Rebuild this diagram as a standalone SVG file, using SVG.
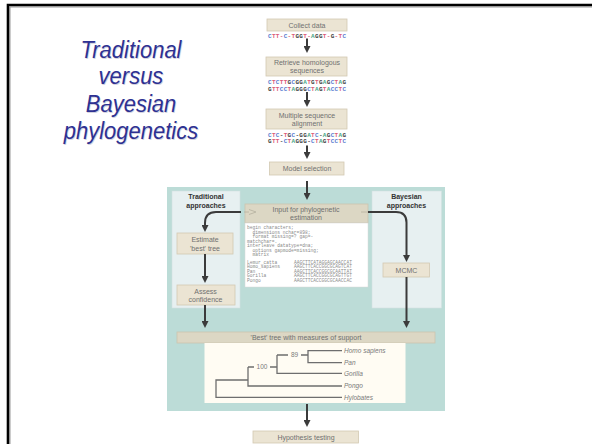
<svg xmlns="http://www.w3.org/2000/svg" width="592" height="444" viewBox="0 0 592 444">
  <style>
    .title { font-family: "Liberation Sans", Arial, sans-serif; font-style: italic; font-size: 22px; fill: #2e3192; text-anchor: middle; }
    .shadow { fill: #d2d2de; }
    .box { fill: #ebe4d3; stroke: #d3c9b2; stroke-width: 0.8; }
    .bar { fill: #dcd7c4; stroke: #cbc4ae; stroke-width: 0.8; }
    .lbl { font-family: "Liberation Sans", Arial, sans-serif; font-size: 7px; fill: #707070; text-anchor: middle; }
    .hd { font-family: "Liberation Sans", Arial, sans-serif; font-size: 7px; font-weight: bold; fill: #333; text-anchor: middle; }
    .arr { stroke: #3b3b3b; stroke-width: 2; fill: none; marker-end: url(#ah); }
    .sq { font-family: "Liberation Mono", "Courier New", monospace; font-size: 6px; font-weight: bold; }
    .a { fill: #4aa88a; } .c { fill: #5a7bd0; } .g { fill: #444; } .t { fill: #dc5c78; }
    .code { font-family: "Liberation Mono", "Courier New", monospace; font-size: 4.6px; fill: #8a8a8a; white-space: pre; }
    .tree { stroke: #6e6e6e; stroke-width: 1.3; fill: none; }
    .leaf { font-family: "Liberation Sans", Arial, sans-serif; font-style: italic; font-size: 6.5px; fill: #7a7a7a; }
    .num { font-family: "Liberation Sans", Arial, sans-serif; font-size: 6.5px; fill: #7a7a7a; text-anchor: middle; }
  </style>
  <defs>
    <marker id="ah" viewBox="0 0 10 10" refX="5.7" refY="5" markerWidth="7" markerHeight="7" markerUnits="userSpaceOnUse" orient="auto">
      <path d="M0,0 L10,5 L0,10 z" fill="#3b3b3b"/>
    </marker>
  </defs>

  <rect width="592" height="444" fill="#ffffff"/>

  <!-- slide frame -->
  <path d="M10,444 V7 H592" fill="none" stroke="#9a9a9a" stroke-width="1"/>
  <path d="M8,444 V5 H592" fill="none" stroke="#000" stroke-width="2.6"/>

  <!-- title -->
  <g id="title" transform="scale(1,1.12)">
    <g transform="translate(0.7,0.7)">
      <text x="131" y="51.8" class="title shadow">Traditional</text>
      <text x="131" y="75" class="title shadow">versus</text>
      <text x="131" y="100" class="title shadow">Bayesian</text>
      <text x="131" y="124.1" class="title shadow">phylogenetics</text>
    </g>
    <text x="131" y="51.8" class="title">Traditional</text>
    <text x="131" y="75" class="title">versus</text>
    <text x="131" y="100" class="title">Bayesian</text>
    <text x="131" y="124.1" class="title">phylogenetics</text>
  </g>

  <!-- lower panel backgrounds -->
  <rect x="167" y="187" width="278" height="224" fill="#bcdcd7"/>
  <rect id="traditional-panel" x="172" y="191" width="68" height="117" fill="#e7f0f1" stroke="#d2e2e2" stroke-width="0.6"/>
  <rect id="bayesian-panel" x="372" y="191" width="69.5" height="117" fill="#e7f0f1" stroke="#d2e2e2" stroke-width="0.6"/>
  <text x="206" y="199" class="hd">Traditional</text>
  <text x="206" y="207.5" class="hd">approaches</text>
  <text x="406.5" y="199" class="hd">Bayesian</text>
  <text x="406.5" y="207.5" class="hd">approaches</text>

  <!-- nodes -->
  <g id="collect">
    <rect x="267" y="19" width="80" height="12" class="box"/>
    <text x="307" y="27.5" class="lbl">Collect data</text>
    <text x="268" y="37.5" class="sq" textLength="78" lengthAdjust="spacing"><tspan class="c">C</tspan><tspan class="t">TT-</tspan><tspan class="c">C</tspan><tspan class="t">-T</tspan><tspan class="g">GG</tspan><tspan class="t">T-</tspan><tspan class="a">A</tspan><tspan class="g">GG</tspan><tspan class="t">T-</tspan><tspan class="g">G</tspan><tspan class="t">-T</tspan><tspan class="c">C</tspan></text>
  </g>

  <g id="retrieve">
    <rect x="266" y="57" width="81" height="19" class="box"/>
    <text x="307" y="65" class="lbl">Retrieve homologous</text>
    <text x="307" y="73" class="lbl">sequences</text>
    <text x="268" y="84" class="sq" textLength="78" lengthAdjust="spacing"><tspan class="c">C</tspan><tspan class="t">T</tspan><tspan class="c">C</tspan><tspan class="t">TT</tspan><tspan class="g">G</tspan><tspan class="c">C</tspan><tspan class="g">GG</tspan><tspan class="a">A</tspan><tspan class="t">T</tspan><tspan class="g">G</tspan><tspan class="t">T</tspan><tspan class="g">G</tspan><tspan class="a">A</tspan><tspan class="g">G</tspan><tspan class="c">C</tspan><tspan class="t">T</tspan><tspan class="a">A</tspan><tspan class="g">G</tspan></text>
    <text x="268" y="90.5" class="sq" textLength="78" lengthAdjust="spacing"><tspan class="g">G</tspan><tspan class="t">TT</tspan><tspan class="c">CC</tspan><tspan class="t">T</tspan><tspan class="a">A</tspan><tspan class="g">GGG</tspan><tspan class="c">C</tspan><tspan class="t">T</tspan><tspan class="a">A</tspan><tspan class="g">G</tspan><tspan class="t">T</tspan><tspan class="a">A</tspan><tspan class="c">CC</tspan><tspan class="t">T</tspan><tspan class="c">C</tspan></text>
  </g>

  <g id="alignment">
    <rect x="266" y="109" width="81" height="20" class="box"/>
    <text x="307" y="117.5" class="lbl">Multiple sequence</text>
    <text x="307" y="125.5" class="lbl">alignment</text>
    <text x="268" y="136.5" class="sq" textLength="78" lengthAdjust="spacing"><tspan class="c">C</tspan><tspan class="t">T</tspan><tspan class="c">C</tspan><tspan class="g">-</tspan><tspan class="t">T</tspan><tspan class="g">G</tspan><tspan class="c">C</tspan><tspan class="g">-GG</tspan><tspan class="a">A</tspan><tspan class="t">T</tspan><tspan class="c">C</tspan><tspan class="g">-</tspan><tspan class="a">A</tspan><tspan class="g">G</tspan><tspan class="c">C</tspan><tspan class="t">T</tspan><tspan class="a">A</tspan><tspan class="g">G</tspan></text>
    <text x="268" y="143" class="sq" textLength="78" lengthAdjust="spacing"><tspan class="g">G</tspan><tspan class="t">TT</tspan><tspan class="g">-</tspan><tspan class="c">C</tspan><tspan class="t">T</tspan><tspan class="a">A</tspan><tspan class="g">GGG-</tspan><tspan class="c">C</tspan><tspan class="t">T</tspan><tspan class="a">A</tspan><tspan class="g">G</tspan><tspan class="t">T</tspan><tspan class="c">CC</tspan><tspan class="t">T</tspan><tspan class="c">C</tspan></text>
  </g>

  <g id="model">
    <rect x="269.5" y="162" width="74.5" height="13" class="box"/>
    <text x="307" y="171" class="lbl">Model selection</text>
  </g>

  <g id="input">
    <rect x="245" y="204" width="123" height="19" class="bar"/>
    <path d="M249,209.5 L256,212 L249,214.5 M249,212 H244" fill="none" stroke="#b5b0a0" stroke-width="0.8"/>
    <path d="M361,212 H368" stroke="#b5b0a0" stroke-width="0.8"/>
    <text x="306" y="212" class="lbl">Input for phylogenetic</text>
    <text x="306" y="220" class="lbl">estimation</text>
    <rect x="245" y="223" width="123" height="64" fill="#ffffff" stroke="#d8d8d8" stroke-width="0.5"/>
    <text class="code" x="247" y="229" xml:space="preserve">begin characters;</text>
    <text class="code" x="247" y="233.5" xml:space="preserve">  dimensions nchar=898;</text>
    <text class="code" x="247" y="238" xml:space="preserve">  format missing=? gap=-</text>
    <text class="code" x="247" y="242.5" xml:space="preserve">matchchar=.</text>
    <text class="code" x="247" y="247" xml:space="preserve">interleave datatype=dna;</text>
    <text class="code" x="247" y="251.5" xml:space="preserve">  options gapmode=missing;</text>
    <text class="code" x="247" y="256" xml:space="preserve">  matrix</text>
    <text class="code" x="247" y="263.5">Lemur_catta</text>
    <text class="code" x="247" y="268">Homo_sapiens</text>
    <text class="code" x="247" y="272.5">Pan</text>
    <text class="code" x="247" y="277">Gorilla</text>
    <text class="code" x="247" y="281.5">Pongo</text>
    <text class="code" x="294" y="263.5">AAGCTTCATAGGAGCAACCAT</text>
    <text class="code" x="294" y="268">AAGCTTCACCGGCGCAGTCAT</text>
    <text class="code" x="294" y="272.5">AAGCTTCACCGGCGCAATTAT</text>
    <text class="code" x="294" y="277">AAGCTTCACCGGCGCAGTTGT</text>
    <text class="code" x="294" y="281.5">AAGCTTCACCGGCGCAACCAC</text>
  </g>

  <g id="estimate">
    <rect x="177" y="233" width="56" height="21" class="box"/>
    <text x="205" y="242" class="lbl">Estimate</text>
    <text x="205" y="250.5" class="lbl">'best' tree</text>
  </g>

  <g id="assess">
    <rect x="177" y="285" width="58" height="20" class="box"/>
    <text x="205.5" y="293.5" class="lbl">Assess</text>
    <text x="205.5" y="302" class="lbl">confidence</text>
  </g>

  <g id="mcmc">
    <rect x="383" y="263" width="46.5" height="14" class="box"/>
    <text x="406.5" y="272.5" class="lbl">MCMC</text>
  </g>

  <g id="best-tree">
    <rect x="177" y="332" width="258" height="11" class="bar"/>
    <text x="306" y="340.3" class="lbl">'Best' tree with measures of support</text>
    <rect x="204.5" y="343" width="201" height="60" fill="#fffcf3"/>
    <path class="tree" d="M342,397.3 H216 V380 H248"/>
    <path class="tree" d="M248,367 V386 H342"/>
    <path class="tree" d="M248,367 H254 M270,367 H277"/>
    <text x="262" y="369.3" class="num">100</text>
    <path class="tree" d="M277,355 V373.3 H342"/>
    <path class="tree" d="M277,355 H288 M301,355 H308"/>
    <text x="294.5" y="357.3" class="num">89</text>
    <path class="tree" d="M342,350.7 H308 V362.7 H342"/>
    <text x="344" y="353" class="leaf">Homo sapiens</text>
    <text x="344" y="365" class="leaf">Pan</text>
    <text x="344" y="375.6" class="leaf">Gorilla</text>
    <text x="344" y="388.3" class="leaf">Pongo</text>
    <text x="344" y="399.6" class="leaf">Hylobates</text>
  </g>

  <g id="hypothesis">
    <rect x="253" y="431" width="105.5" height="12" class="box"/>
    <text x="306" y="439.5" class="lbl">Hypothesis testing</text>
  </g>

  <!-- connectors -->
  <g id="connectors">
    <path class="arr" d="M307,38.5 V50"/>
    <path class="arr" d="M307,92 V104"/>
    <path class="arr" d="M307,145.5 V156"/>
    <path class="arr" d="M307,181 V197"/>
    <path class="arr" d="M241,212 H216 Q205,212 205,223 V229"/>
    <path class="arr" d="M368,212 H396 Q406.5,212 406.5,222.5 V259"/>
    <path class="arr" d="M205,254 V280"/>
    <path class="arr" d="M205,305 V325"/>
    <path class="arr" d="M406.5,277 V325"/>
    <path class="arr" d="M307,404 V424"/>
  </g>
</svg>
